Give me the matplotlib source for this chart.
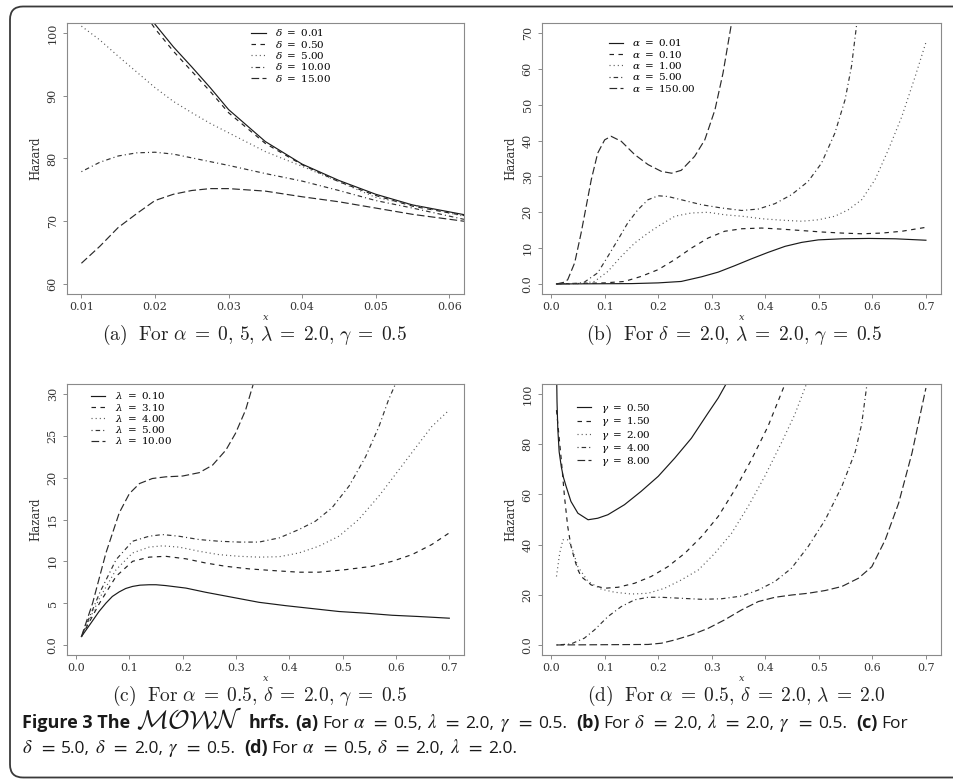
import matplotlib
matplotlib.use("Agg")
import matplotlib.pyplot as plt
from matplotlib.patches import FancyBboxPatch

# ---------------------------------------------------------------- data
# (a) varying delta
a_x = [0.010, 0.0125, 0.015, 0.0175, 0.020, 0.0225, 0.025, 0.0275, 0.030, 0.035, 0.040, 0.045, 0.050, 0.055, 0.062]
a_d001 = [None, None, None, 106.0, 101.4, 97.8, 94.6, 91.3, 87.8, 82.7, 79.1, 76.5, 74.3, 72.6, 71.05]
a_d050 = [None, None, None, 105.0, 100.7, 97.1, 93.9, 90.7, 87.3, 82.4, 79.0, 76.3, 74.1, 72.4, 70.9]
a_d500 = [101.1, 98.9, 96.3, 93.8, 91.3, 89.1, 87.3, 85.6, 84.1, 81.1, 78.75, 76.3, 73.8, 72.6, 70.8]
a_d1000 = [77.9, 79.4, 80.4, 80.9, 81.0, 80.7, 80.1, 79.5, 78.9, 77.6, 76.4, 74.9, 73.3, 72.1, 70.3]
a_d1500 = [63.3, 66.0, 69.0, 71.2, 73.3, 74.3, 74.9, 75.2, 75.2, 74.8, 73.9, 73.1, 72.1, 71.1, 70.0]
a_labels = ["0.01", "0.50", "5.00", "10.00", "15.00"]

# (b) varying alpha
b_x150 = [0.010, 0.025, 0.031, 0.044, 0.056, 0.062, 0.075, 0.087, 0.100, 0.112, 0.131, 0.156, 0.181, 0.206, 0.225,
          0.243, 0.268, 0.287, 0.306, 0.321, 0.337, 0.345]
b_a150 = [0.0, 0.5, 1.2, 5.9, 14.2, 18.9, 29.1, 36.5, 40.2, 41.2, 39.8, 36.1, 33.3, 31.4, 30.9,
          31.7, 35.6, 40.2, 48.6, 58.8, 72.8, 80.0]
b_x5 = [0.010, 0.050, 0.062, 0.087, 0.106, 0.125, 0.143, 0.162, 0.181, 0.200, 0.218, 0.243, 0.281, 0.318, 0.356,
        0.387, 0.418, 0.449, 0.480, 0.505, 0.530, 0.549, 0.561, 0.571, 0.580]
b_a5 = [0.0, 0.2, 0.5, 3.1, 7.7, 12.4, 17.0, 20.7, 23.5, 24.6, 24.4, 23.5, 22.1, 21.2, 20.5,
        20.9, 22.4, 24.9, 28.6, 33.7, 42.1, 51.4, 60.7, 72.8, 82.0]
b_x1 = [0.010, 0.056, 0.081, 0.106, 0.131, 0.156, 0.181, 0.200, 0.231, 0.262, 0.293, 0.324, 0.356, 0.393, 0.430,
        0.468, 0.499, 0.530, 0.555, 0.580, 0.605, 0.630, 0.655, 0.680, 0.700]
b_a1 = [0.0, 0.1, 0.7, 3.5, 7.7, 11.4, 14.2, 16.1, 18.9, 19.8, 20.0, 19.3, 18.9, 18.2, 17.8,
        17.5, 17.9, 18.9, 20.7, 23.5, 29.1, 37.5, 46.7, 57.9, 67.4]
b_x01 = [0.010, 0.100, 0.137, 0.168, 0.200, 0.231, 0.262, 0.293, 0.324, 0.356, 0.393, 0.430, 0.468, 0.505, 0.543,
         0.580, 0.618, 0.655, 0.700]
b_a01 = [0.0, 0.3, 0.7, 2.1, 4.0, 6.8, 10.0, 12.8, 14.7, 15.4, 15.6, 15.3, 14.9, 14.5, 14.2,
         14.0, 14.2, 14.7, 15.8]
b_x001 = [0.010, 0.150, 0.200, 0.243, 0.281, 0.312, 0.343, 0.374, 0.405, 0.437, 0.468, 0.499, 0.543, 0.593, 0.643, 0.700]
b_a001 = [0.0, 0.1, 0.3, 0.7, 2.0, 3.3, 5.1, 7.0, 8.8, 10.5, 11.6, 12.3, 12.6, 12.7, 12.6, 12.2]
b_labels = ["0.01", "0.10", "1.00", "5.00", "150.00"]

# (c) varying lambda
c_x10 = [0.010, 0.031, 0.056, 0.081, 0.100, 0.119, 0.143, 0.168, 0.200, 0.231, 0.256, 0.281, 0.299, 0.318, 0.331, 0.340]
c_l10 = [1.0, 5.0, 11.0, 15.8, 18.1, 19.3, 19.9, 20.1, 20.2, 20.6, 21.5, 23.3, 25.3, 28.1, 30.9, 33.0]
c_x5 = [0.010, 0.044, 0.075, 0.106, 0.137, 0.162, 0.193, 0.231, 0.268, 0.306, 0.343, 0.381, 0.418, 0.449, 0.480,
        0.512, 0.543, 0.568, 0.586, 0.599, 0.610]
c_l5 = [1.0, 6.2, 10.2, 12.4, 13.0, 13.2, 13.0, 12.6, 12.4, 12.3, 12.3, 12.8, 13.8, 14.8, 16.4,
        19.0, 22.5, 26.1, 29.3, 31.2, 33.0]
c_x4 = [0.010, 0.044, 0.075, 0.106, 0.137, 0.162, 0.193, 0.231, 0.268, 0.306, 0.343, 0.381, 0.418, 0.455, 0.493,
        0.530, 0.568, 0.605, 0.643, 0.667, 0.700]
c_l4 = [1.0, 5.6, 9.0, 11.0, 11.7, 11.85, 11.7, 11.2, 10.8, 10.6, 10.5, 10.55, 11.0, 11.8, 13.0,
        15.0, 17.8, 20.9, 24.1, 26.1, 28.1]
c_x31 = [0.010, 0.044, 0.075, 0.106, 0.137, 0.168, 0.206, 0.243, 0.281, 0.324, 0.368, 0.418, 0.455, 0.505, 0.555,
         0.593, 0.630, 0.667, 0.700]
c_l31 = [1.0, 5.0, 8.2, 10.0, 10.5, 10.6, 10.3, 9.8, 9.4, 9.1, 8.9, 8.7, 8.7, 9.0, 9.4,
         10.0, 10.8, 12.0, 13.4]
c_x01 = [0.010, 0.020, 0.031, 0.043, 0.056, 0.068, 0.081, 0.093, 0.106, 0.120, 0.137, 0.150, 0.168, 0.206, 0.243,
         0.293, 0.343, 0.393, 0.443, 0.493, 0.543, 0.593, 0.643, 0.700]
c_l01 = [1.0, 1.9, 2.9, 4.0, 5.0, 5.8, 6.35, 6.75, 7.0, 7.15, 7.2, 7.2, 7.1, 6.8, 6.3,
         5.7, 5.1, 4.7, 4.35, 4.0, 3.8, 3.55, 3.4, 3.2]
c_labels = ["0.10", "3.10", "4.00", "5.00", "10.00"]

# (d) varying gamma
d_x05 = [0.010, 0.011, 0.0125, 0.015, 0.019, 0.023, 0.028, 0.037, 0.050, 0.069, 0.087, 0.106, 0.137, 0.168, 0.200,
         0.231, 0.262, 0.293, 0.312, 0.327, 0.335]
d_g05 = [112.0, 97.0, 86.0, 77.0, 71.0, 66.8, 63.2, 57.2, 52.5, 49.9, 50.5, 51.9, 55.9, 61.2, 67.2,
         74.5, 82.4, 92.4, 98.4, 104.1, 107.0]
d_x15 = [0.010, 0.019, 0.025, 0.031, 0.037, 0.044, 0.050, 0.056, 0.075, 0.100, 0.125, 0.156, 0.187, 0.218, 0.250,
         0.281, 0.312, 0.343, 0.374, 0.405, 0.437, 0.445]
d_g15 = [93.6, 73.8, 59.0, 47.2, 39.5, 33.9, 30.0, 27.3, 23.9, 22.6, 23.0, 24.6, 27.3, 31.2, 36.6,
         43.2, 51.2, 61.8, 73.8, 87.1, 104.1, 108.0]
d_x2 = [0.010, 0.016, 0.022, 0.031, 0.037, 0.050, 0.069, 0.094, 0.119, 0.150, 0.181, 0.212, 0.243, 0.275, 0.306,
        0.337, 0.368, 0.399, 0.430, 0.455, 0.477, 0.485]
d_g2 = [27.3, 36.6, 41.9, 41.9, 39.9, 31.2, 25.3, 22.2, 21.0, 20.3, 20.6, 22.6, 25.9, 29.9, 36.6,
        44.5, 55.2, 67.2, 80.5, 91.8, 104.1, 108.0]
d_x4 = [0.010, 0.037, 0.062, 0.081, 0.106, 0.131, 0.156, 0.181, 0.206, 0.243, 0.281, 0.318, 0.356, 0.387, 0.418,
        0.449, 0.480, 0.512, 0.543, 0.568, 0.580, 0.590, 0.595]
d_g4 = [0.0, 0.4, 2.7, 6.0, 11.3, 15.3, 18.0, 19.0, 19.0, 18.6, 18.2, 18.4, 19.5, 21.9, 25.3,
        30.6, 39.2, 49.9, 63.2, 77.0, 88.0, 104.1, 110.0]
d_x8 = [0.010, 0.181, 0.206, 0.231, 0.262, 0.293, 0.324, 0.356, 0.387, 0.418, 0.449, 0.480, 0.512, 0.543, 0.574,
        0.599, 0.624, 0.649, 0.674, 0.700]
d_g8 = [0.0, 0.2, 0.7, 2.0, 4.0, 6.6, 10.0, 14.0, 17.3, 19.0, 19.9, 20.6, 21.7, 23.3, 26.6,
        31.2, 41.9, 56.5, 76.5, 102.4]
d_labels = ["0.50", "1.50", "2.00", "4.00", "8.00"]

x_ticks_small = [0.01, 0.02, 0.03, 0.04, 0.05, 0.06]
x_ticks_wide = [0.0, 0.1, 0.2, 0.3, 0.4, 0.5, 0.6, 0.7]
a_yticks = [60, 70, 80, 90, 100]
b_yticks = [0, 10, 20, 30, 40, 50, 60, 70]
c_yticks = [0, 5, 10, 15, 20, 25, 30]
d_yticks = [0, 20, 40, 60, 80, 100]

# R line types: solid, dashed, dotted, dotdash, longdash
LINESTYLES = ['-', (0, (3.8, 3.8)), (0, (0.9, 2.6)), (0, (0.9, 2.6, 3.8, 2.6)), (0, (6.5, 2.8))]
LINECOLORS = ['#1a1a1a', '#222222', '#555555', '#333333', '#2a2a2a']

W, H = 954, 784
FRAME = '#8a8a8a'

plt.rcParams['font.family'] = 'DejaVu Serif'
plt.rcParams['mathtext.fontset'] = 'dejavuserif'

fig = plt.figure(figsize=(W / 100, H / 100), dpi=100)


def add_axes_px(left, top, right, bottom):
    return fig.add_axes([left / W, 1 - bottom / H, (right - left) / W, (bottom - top) / H])


def fmt_tick(v):
    if v == 0:
        return "0.0"
    if float(v).is_integer():
        return str(int(v))
    return ("%.2f" % v) if v < 0.1 else ("%.1f" % v)


def draw_panel(ax, curves, symbol, labels, xlim, ylim, xticks, yticks, anchor):
    lines = []
    for (x, y), ls, col in zip(curves, LINESTYLES, LINECOLORS):
        ln, = ax.plot(x, y, linestyle=ls, color=col, lw=0.85)
        lines.append(ln)
    ax.set_xlim(*xlim)
    ax.set_ylim(*ylim)
    ax.set_xticks(xticks)
    ax.set_xticklabels([fmt_tick(v) for v in xticks])
    ax.set_yticks(yticks)
    ax.set_yticklabels([fmt_tick(v) for v in yticks])
    for lab in ax.get_yticklabels():
        lab.set_rotation(90)
        lab.set_va('center')
    for sp in ax.spines.values():
        sp.set_color(FRAME)
        sp.set_linewidth(0.8)
    ax.tick_params(direction='out', length=3, width=0.7, color=FRAME,
                   labelsize=8, labelcolor='#333333')
    ax.tick_params(axis='x', pad=2.5)
    ax.tick_params(axis='y', pad=3.5)
    ax.set_xlabel(r"$x$", fontsize=7, color='#333333')
    ax.xaxis.set_label_coords(0.5, -0.07)
    ax.set_ylabel("Hazard", fontsize=8.5, color='#333333')
    ax.yaxis.set_label_coords(-0.061, 0.5)
    ax.legend(lines, [r"$\%s\ =\ %s$" % (symbol, s) for s in labels],
              loc='upper left', bbox_to_anchor=anchor, frameon=False,
              fontsize=7.5, handlelength=1.35, handletextpad=0.9,
              labelspacing=0.03, borderpad=0, borderaxespad=0)


ax_a = add_axes_px(66.7, 23, 464, 294)
ax_b = add_axes_px(541.7, 23, 940.7, 294)
ax_c = add_axes_px(66.7, 384, 464, 655)
ax_d = add_axes_px(541.7, 384, 940.7, 655)

draw_panel(ax_a, [(a_x, a_d001), (a_x, a_d050), (a_x, a_d500), (a_x, a_d1000), (a_x, a_d1500)],
           'delta', a_labels, (0.008, 0.062), (58.4, 101.6), x_ticks_small, a_yticks, (0.465, 0.984))
draw_panel(ax_b, [(b_x001, b_a001), (b_x01, b_a01), (b_x1, b_a1), (b_x5, b_a5), (b_x150, b_a150)],
           'alpha', b_labels, (-0.0176, 0.7276), (-2.8, 72.8), x_ticks_wide, b_yticks, (0.168, 0.947))
draw_panel(ax_c, [(c_x01, c_l01), (c_x31, c_l31), (c_x4, c_l4), (c_x5, c_l5), (c_x10, c_l10)],
           'lambda', c_labels, (-0.0176, 0.7276), (-1.2, 31.2), x_ticks_wide, c_yticks, (0.062, 0.977))
draw_panel(ax_d, [(d_x05, d_g05), (d_x15, d_g15), (d_x2, d_g2), (d_x4, d_g4), (d_x8, d_g8)],
           'gamma', d_labels, (-0.0176, 0.7276), (-4.0, 104.0), x_ticks_wide, d_yticks, (0.089, 0.934))


# sub-captions under each panel (LaTeX-like, Computer Modern)
def subcap(tag, pairs):
    body = r",\,".join(r"\%s\;=\;%s" % (g, v) for g, v in pairs)
    return r"$\mathrm{(%s)\ \ For}\ %s$" % (tag, body)


subcaps = [(255, 340, subcap('a', [('alpha', r'0,\,5'), ('lambda', '2.0'), ('gamma', '0.5')])),
           (734, 340, subcap('b', [('delta', '2.0'), ('lambda', '2.0'), ('gamma', '0.5')])),
           (259, 701, subcap('c', [('alpha', '0.5'), ('delta', '2.0'), ('gamma', '0.5')])),
           (736, 701, subcap('d', [('alpha', '0.5'), ('delta', '2.0'), ('lambda', '2.0')]))]
for cx, cy, txt in subcaps:
    fig.text(cx / W, 1 - cy / H, txt, ha='center', va='baseline', fontsize=14,
             math_fontfamily='cm', color='#222222')

# rounded border of the figure box (runs off the right edge)
border = FancyBboxPatch((0.10, 0.065), 9.8, 7.71, boxstyle="round,pad=0,rounding_size=0.13",
                        transform=fig.dpi_scale_trans, facecolor='none', edgecolor='#3a3a3a',
                        lw=1.3, clip_on=False)
fig.patches.append(border)

# figure caption, written run by run so bold / regular / math can mix
renderer = fig.canvas.get_renderer()
SANS = 'Open Sans'
STY = {
    'b': dict(family=SANS, fontweight='bold', fontsize=13),
    'r': dict(family=SANS, fontsize=12.5),
    'm': dict(fontsize=13.5, math_fontfamily='stix'),
    'e': dict(fontsize=14, math_fontfamily='stix'),
    'c': dict(fontsize=19, math_fontfamily='cm'),
}


def put_runs(x, y, runs):
    for txt, key, gap in runs:
        t = fig.text(x / W, 1 - y / H, txt, va='baseline', ha='left', color='#1a1a1a', **STY[key])
        x += t.get_window_extent(renderer).width + gap


def greek_runs(pairs, tail):
    out = []
    for i, (g, val) in enumerate(pairs):
        last = i == len(pairs) - 1
        out.append((r"$\%s$" % g, 'm', 6))
        out.append((r"$=$", 'e', 5))
        out.append((val + (tail if last else ","), 'r', 9 if last else 5))
    return out


line1 = ([("Figure 3 The", 'b', 6), (r"$\mathcal{MOWN}$", 'c', 6), ("hrfs.", 'b', 5),
          ("(a)", 'b', 4), ("For", 'r', 4)]
         + greek_runs([('alpha', '0.5'), ('lambda', '2.0'), ('gamma', '0.5')], '.')
         + [("(b)", 'b', 4), ("For", 'r', 4)]
         + greek_runs([('delta', '2.0'), ('lambda', '2.0'), ('gamma', '0.5')], '.')
         + [("(c)", 'b', 4), ("For", 'r', 4)])
line2 = (greek_runs([('delta', '5.0'), ('delta', '2.0'), ('gamma', '0.5')], '.')
         + [("(d)", 'b', 4), ("For", 'r', 4)]
         + greek_runs([('alpha', '0.5'), ('delta', '2.0'), ('lambda', '2.0')], '.'))
put_runs(22, 728, line1)
put_runs(22, 753, line2)

fig.savefig("out.png", dpi=100)
